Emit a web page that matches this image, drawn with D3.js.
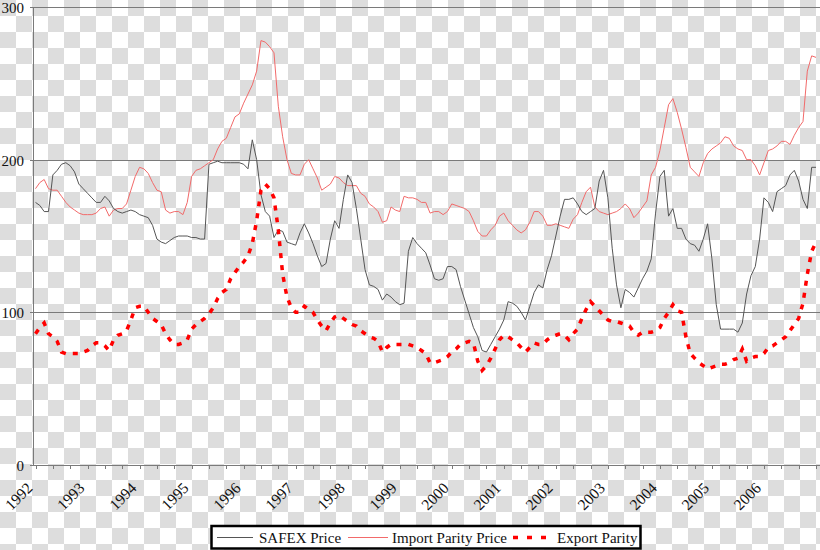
<!DOCTYPE html>
<html><head><meta charset="utf-8">
<script src="https://cdn.jsdelivr.net/npm/d3@7"></script>
<style>html,body{margin:0;padding:0;background:#fff;} svg{display:block;}</style>
</head><body>
<svg id="chart" width="820" height="550"></svg>
<script>
const yearLabels = ["1992","1993","1994","1995","1996","1997","1998","1999","2000","2001","2002","2003","2004","2005","2006"];
const yTicks = [0, 100, 200, 300];
const seriesNames = ["SAFEX Price", "Import Parity Price", "Export Parity"];

// monthly values, Jan 1992 onwards
const safex = [
172,170,166,166,190,193,197,198,196,192,
184,181,178,175,172,172,176,173,168,166,
165,166,167,166,164,163,162,157,148,146,
145,147,149,150,150,150,149,149,148,148,
197,198,199,198,198,198,198,198,197,194,
213,200,177,166,163,149,154,153,146,145,
144,152,158,152,145,137,130,132,148,160,
155,174,190,185,168,148,128,118,117,115,
108,112,110,107,105,106,140,149,145,142,
139,131,122,121,122,130,130,128,117,108,
99,90,84,75,74,79,84,89,95,107,
106,104,100,95,104,113,118,116,128,137,
150,163,174,174,175,171,166,164,166,168,
186,193,175,142,118,103,115,113,110,116,
122,127,135,165,189,193,163,168,155,155,
148,145,144,140,148,158,135,105,89,89,
89,89,87,93,112,124,130,148,175,172,
166,179,181,183,190,193,186,174,168,195,195];

const importParity = [
181,185,187,181,180,180,176,172,169,167,
165,164,164,164,165,168,169,163,167,168,
168,171,180,189,195,194,191,185,180,179,
167,165,166,166,164,172,189,193,194,196,
198,200,207,212,214,221,228,230,237,243,
249,258,278,277,274,270,235,215,200,191,
190,190,197,200,194,188,180,182,184,189,
188,185,183,183,183,178,176,171,169,166,
159,160,169,167,166,176,175,175,174,172,
172,165,166,166,164,166,171,170,169,168,
166,160,153,150,150,154,157,163,165,160,
157,154,152,154,159,166,166,163,157,157,
158,157,156,155,161,164,172,179,182,169,
166,165,164,165,166,168,171,168,162,165,
169,173,190,195,206,221,236,240,231,220,
208,195,192,189,198,204,207,209,211,215,
214,209,207,206,200,200,196,190,198,206,
207,209,212,212,210,216,221,225,258,268,267];

const exportParity = [
86,90,93,86,84,81,74,73,73,73,
73,74,75,78,80,80,78,75,82,85,
86,88,95,103,104,104,100,96,94,92,
86,82,79,79,80,82,89,92,94,96,
99,103,109,113,115,122,126,130,133,137,
145,160,180,184,181,175,154,125,110,103,
100,100,104,102,100,95,91,88,93,97,
98,96,94,92,91,88,86,84,83,81,
74,77,79,79,79,79,79,78,77,75,
73,67,67,68,69,71,74,76,79,80,
81,80,68,62,65,70,76,82,85,84,
82,80,77,74,77,80,79,79,82,84,
85,86,85,82,86,89,96,102,107,104,
101,98,95,94,94,93,92,91,87,85,
87,87,87,88,90,96,100,105,101,100,
84,73,70,67,65,63,64,65,66,66,
67,69,70,76,68,70,71,71,73,77,
78,80,82,84,88,92,96,106,125,140,146];

const W = 820, H = 550;
const svg = d3.select('#chart');
const FONT = '"Liberation Serif","Times New Roman",serif';

// transparent-look checkerboard background
const defs = svg.append('defs');
const pat = defs.append('pattern').attr('id', 'chk').attr('width', 32).attr('height', 32)
  .attr('patternUnits', 'userSpaceOnUse');
pat.append('rect').attr('width', 32).attr('height', 32).attr('fill', '#ffffff');
pat.append('rect').attr('width', 16).attr('height', 16).attr('fill', '#dddddd');
pat.append('rect').attr('x', 16).attr('y', 16).attr('width', 16).attr('height', 16).attr('fill', '#dddddd');
svg.append('rect').attr('width', W).attr('height', H).attr('fill', 'url(#chk)');

const x = d3.scaleLinear().domain([0, 180]).range([35.5, 816]);
const y = d3.scaleLinear().domain([0, 300]).range([465, 7]);
const X0 = 33, X1 = 820;

// gridlines and y labels
const g = svg.append('g');
yTicks.forEach(t => {
  const yy = Math.round(y(t)) + 0.5;
  if (t > 0) {
    g.append('line').attr('x1', X0 - 3).attr('x2', X1).attr('y1', yy).attr('y2', yy)
      .attr('stroke', '#7a7a7a').attr('stroke-width', 1);
  }
  g.append('text').attr('x', 24).attr('y', yy).attr('dy', '0.35em')
    .attr('text-anchor', 'end').attr('font-family', FONT).attr('font-size', 15)
    .attr('fill', '#111').text(t);
});

// axes lines
g.append('line').attr('x1', X0 + 0.5).attr('x2', X0 + 0.5).attr('y1', y(300)).attr('y2', y(0))
  .attr('stroke', '#7a7a7a');
g.append('line').attr('x1', X0 - 3).attr('x2', X1).attr('y1', Math.round(y(0)) + 0.5).attr('y2', Math.round(y(0)) + 0.5)
  .attr('stroke', '#7a7a7a');

// x ticks every 4 months
for (let i = 0; i <= 180; i += 4) {
  const xx = Math.round(x(i)) + 0.5;
  g.append('line').attr('x1', xx).attr('x2', xx).attr('y1', y(0)).attr('y2', y(0) + 4)
    .attr('stroke', '#7a7a7a');
}

// year labels
yearLabels.forEach((lab, k) => {
  const xx = x(k * 12) - 2;
  g.append('text').attr('transform', `translate(${xx},489) rotate(-45)`)
    .attr('text-anchor', 'end').attr('font-family', FONT).attr('font-size', 15.5)
    .attr('fill', '#111').text(lab);
});

const line = d3.line().x((d, i) => x(i)).y(d => y(d));

svg.append('path').datum(importParity).attr('d', line).attr('fill', 'none')
  .attr('stroke', '#f26a6a').attr('stroke-width', 1);
svg.append('path').datum(safex).attr('d', line).attr('fill', 'none')
  .attr('stroke', '#555').attr('stroke-width', 1);
svg.append('path').datum(exportParity).attr('d', line).attr('fill', 'none')
  .attr('stroke', '#ff0000').attr('stroke-width', 3.5).attr('stroke-dasharray', '5,7');

// legend
const lg = svg.append('g');
lg.append('rect').attr('x', 211.5).attr('y', 526).attr('width', 429).attr('height', 22.5)
  .attr('fill', '#fff').attr('stroke', '#000').attr('stroke-width', 2.5);
const items = [
  {name: seriesNames[0], x1: 217, x2: 253, tx: 259, stroke: '#555', w: 1, dash: null},
  {name: seriesNames[1], x1: 348, x2: 388, tx: 392, stroke: '#f26a6a', w: 1, dash: null},
  {name: seriesNames[2], x1: 513, x2: 549, tx: 557, stroke: '#ff0000', w: 3.5, dash: '5,9'}
];
items.forEach(it => {
  lg.append('line').attr('x1', it.x1).attr('x2', it.x2).attr('y1', 537.5).attr('y2', 537.5)
    .attr('stroke', it.stroke).attr('stroke-width', it.w).attr('stroke-dasharray', it.dash);
  lg.append('text').attr('x', it.tx).attr('y', 542.5).attr('font-family', FONT).attr('font-size', 15)
    .attr('fill', '#111').text(it.name);
});
</script>
</body></html>
